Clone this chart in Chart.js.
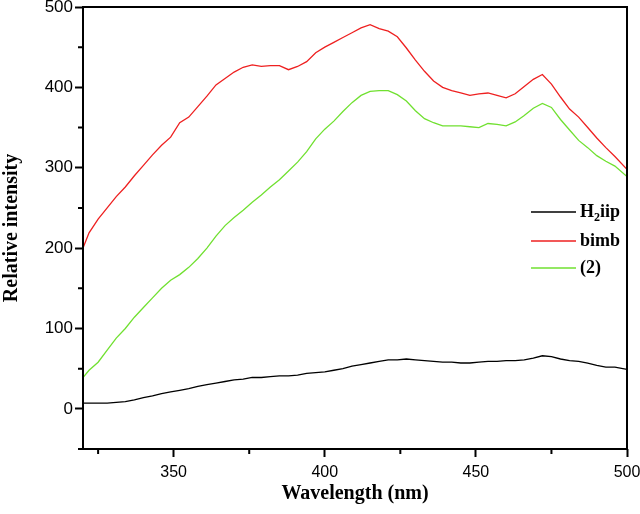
<!DOCTYPE html>
<html>
<head>
<meta charset="utf-8">
<style>
  html, body { margin: 0; padding: 0; background: #fff; }
</style>
</head>
<body>
<canvas id="chart" width="640" height="514"></canvas>
<script src="https://cdn.jsdelivr.net/npm/chart.js@4.4.1/dist/chart.umd.min.js"></script>
<script>
// values, every 3 nm
const wavelengths = [320, 322, 325, 328, 331, 334, 337, 340, 343, 346, 349, 352, 355, 358, 361, 364, 367, 370, 373, 376,
  379, 382, 385, 388, 391, 394, 397, 400, 403, 406, 409, 412, 415, 418, 421, 424, 427, 430, 433, 436,
  439, 442, 445, 448, 451, 454, 457, 460, 463, 466, 469, 472, 475, 478, 481, 484, 487, 490, 493, 496, 500];
const h2iip = [7, 7, 7, 7, 8, 9, 11, 14, 16, 19, 21, 23, 25, 28, 30, 32, 34, 36, 37, 39,
  39, 40, 41, 41, 42, 44, 45, 46, 48, 50, 53, 55, 57, 59, 61, 61, 62, 61, 60, 59,
  58, 58, 57, 57, 58, 59, 59, 60, 60, 61, 63, 66, 65, 62, 60, 59, 57, 54, 52, 52, 49];
const bimb = [200, 219, 236, 250, 264, 276, 290, 303, 316, 328, 338, 356, 363, 376, 389, 403, 411, 419, 425, 428,
  426, 427, 427, 422, 426, 432, 443, 450, 456, 462, 468, 474, 478, 473, 470, 463, 449, 434, 420, 408,
  400, 396, 393, 390, 392, 393, 390, 387, 392, 401, 410, 416, 404, 388, 373, 363, 350, 337, 325, 314, 298];
const complex2 = [39, 48, 58, 73, 88, 100, 114, 126, 138, 150, 160, 167, 176, 187, 200, 215, 228, 238, 247, 257,
  266, 276, 285, 296, 307, 320, 336, 348, 358, 370, 381, 390, 395, 396, 396, 391, 383, 371, 361, 356,
  352, 352, 352, 351, 350, 355, 354, 352, 357, 365, 374, 380, 375, 360, 347, 334, 325, 315, 308, 302, 289];

const seriesNames = ["H₂iip", "bimb", "(2)"];
const xTicks = [350, 400, 450, 500];
const xMinorTicks = [325, 375, 425, 475];
const yTicks = [0, 100, 200, 300, 400, 500];
const yMinorTicks = [-50, 50, 150, 250, 350, 450];

const colors = ["#000000", "#ee2020", "#70e030"];
const serif = "'Liberation Serif', 'Times New Roman', serif";
const titleFont = { family: serif, size: 20, weight: "bold" };

const toPoints = (ys) => ys.map((y, i) => ({ x: wavelengths[i], y: y }));

// frame, minor ticks and the in-plot legend
const framePlugin = {
  id: "frame",
  afterDraw(chart) {
    const { ctx, chartArea: a, scales } = chart;
    ctx.save();
    ctx.strokeStyle = "#000";
    ctx.lineWidth = 2;
    ctx.strokeRect(a.left, a.top, a.right - a.left, a.bottom - a.top);

    ctx.beginPath();
    xMinorTicks.forEach((v) => {
      const px = scales.x.getPixelForValue(v);
      ctx.moveTo(px, a.bottom);
      ctx.lineTo(px, a.bottom + 5);
    });
    yMinorTicks.forEach((v) => {
      const py = scales.y.getPixelForValue(v);
      ctx.moveTo(a.left, py);
      ctx.lineTo(a.left - 5, py);
    });
    ctx.stroke();

    // legend
    const rows = [212, 241, 268];
    ctx.textBaseline = "middle";
    chart.data.datasets.forEach((ds, i) => {
      const y = rows[i];
      ctx.strokeStyle = ds.borderColor;
      ctx.lineWidth = 1.3;
      ctx.beginPath();
      ctx.moveTo(531, y);
      ctx.lineTo(576, y);
      ctx.stroke();
      ctx.fillStyle = "#000";
      let x = 580;
      for (const ch of ds.label) {
        if (ch === "₂") {
          ctx.font = "bold 12px " + serif;
          ctx.fillText("2", x, y + 6);
          x += ctx.measureText("2").width;
        } else {
          ctx.font = "bold 18px " + serif;
          ctx.fillText(ch, x, y);
          x += ctx.measureText(ch).width;
        }
      }
    });
    ctx.restore();
  },
};

new Chart(document.getElementById("chart"), {
  type: "line",
  data: {
    datasets: [
      { label: seriesNames[0], data: toPoints(h2iip), borderColor: colors[0] },
      { label: seriesNames[1], data: toPoints(bimb), borderColor: colors[1] },
      { label: seriesNames[2], data: toPoints(complex2), borderColor: colors[2] },
    ],
  },
  options: {
    responsive: false,
    animation: false,
    layout: { padding: { top: 7, right: 13, left: 0, bottom: 0 } },
    elements: {
      point: { radius: 0 },
      line: { borderWidth: 1.3, tension: 0 },
    },
    plugins: { legend: { display: false }, tooltip: { enabled: false } },
    scales: {
      x: {
        type: "linear",
        min: 320,
        max: 500,
        afterBuildTicks: (s) => { s.ticks = xTicks.map((v) => ({ value: v })); },
        afterFit: (s) => { s.height = 65; s.paddingLeft = 0; s.paddingRight = 0; },
        ticks: { font: { family: "'Liberation Sans', Arial, sans-serif", size: 16 }, color: "#000", padding: 6, maxRotation: 0 },
        grid: { drawOnChartArea: false, tickLength: 8, tickWidth: 2, tickColor: "#000" },
        border: { display: false },
        title: { display: true, text: "Wavelength (nm)", font: titleFont, color: "#000", padding: { top: 8, bottom: 8 } },
      },
      y: {
        min: -50,
        max: 500,
        afterBuildTicks: (s) => { s.ticks = yTicks.map((v) => ({ value: v })); },
        afterFit: (s) => { s.width = 83; s.paddingTop = 0; s.paddingBottom = 0; },
        ticks: { font: { family: "'Liberation Sans', Arial, sans-serif", size: 17 }, color: "#000", padding: 2 },
        grid: { drawOnChartArea: false, tickLength: 8, tickWidth: 2, tickColor: "#000" },
        border: { display: false },
        title: { display: true, text: "Relative intensity", font: titleFont, color: "#000", padding: { top: 0, bottom: 4 } },
      },
    },
  },
  plugins: [framePlugin],
});
</script>
</body>
</html>
